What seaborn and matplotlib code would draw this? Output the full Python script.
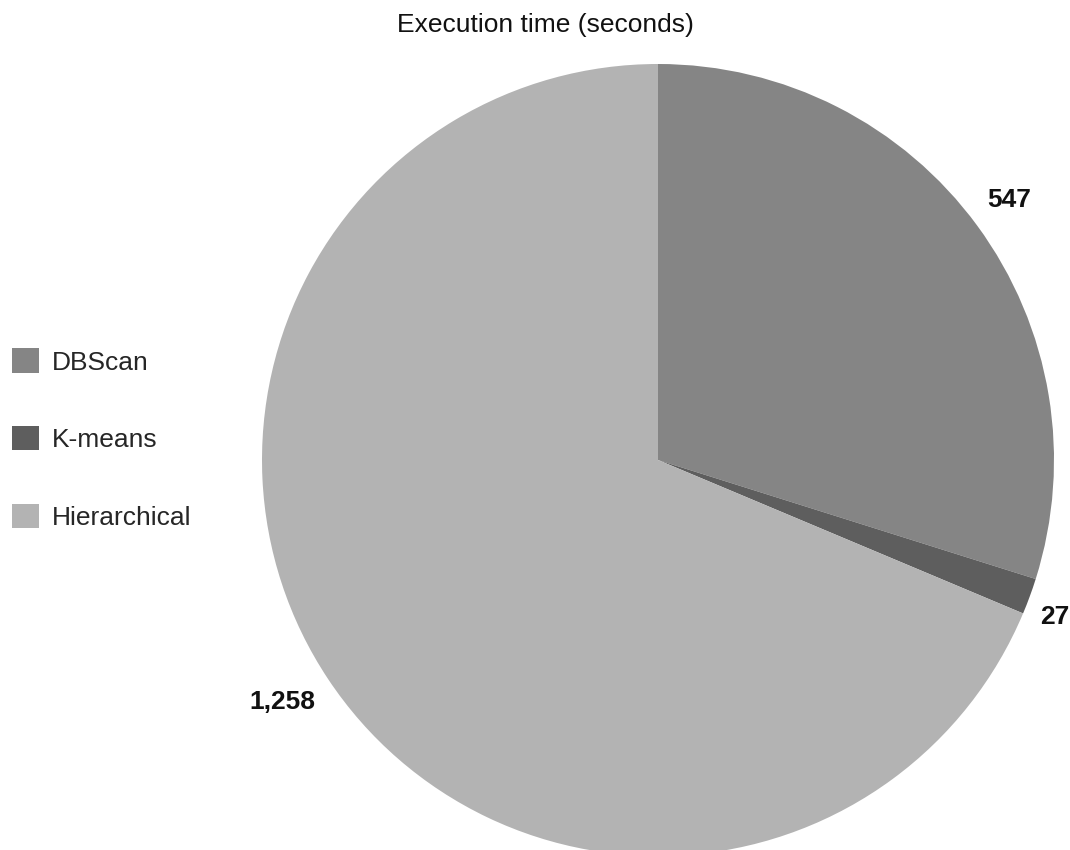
import matplotlib
matplotlib.use("Agg")
import matplotlib.pyplot as plt
import matplotlib.transforms as mtransforms
import seaborn as sns

categories = ["DBScan", "K-means", "Hierarchical"]
values = [547, 27, 1258]
value_labels = ["547", "27", "1,258"]
colors = ["#858585", "#5e5e5e", "#b3b3b3"]
title = "Execution time (seconds)"

# small label nudges (pixels) to mimic the original label placement
label_nudges = [(-3, 16), (-5, -15), (0, -14)]

sns.set_theme(style="white")
plt.rcParams["font.family"] = ["Liberation Sans", "DejaVu Sans"]

W, H = 1070, 850
fig = plt.figure(figsize=(W / 100, H / 100), dpi=100)
ax = fig.add_axes([0, 0, 1, 1])

wedges, texts = ax.pie(values, labels=value_labels, colors=colors,
                       startangle=90, counterclock=False,
                       labeldistance=1.04,
                       wedgeprops=dict(linewidth=0),
                       textprops=dict(fontsize=19, fontweight="bold", color="#111111"))

for t, (dx, dy) in zip(texts, label_nudges):
    t.set_transform(ax.transData + mtransforms.ScaledTranslation(dx / 100, dy / 100, fig.dpi_scale_trans))

# Map pie radius 1 to ~396 px, centered at (658, 460) from top
cx, cy, R = 658, 460, 396
ax.set_xlim(-cx / R, (W - cx) / R)
ax.set_ylim(-(H - cy) / R, cy / R)
ax.set_aspect("auto")
ax.axis("off")

fig.text(0.51, 0.9706, title, ha="center", va="center", fontsize=19, color="#111111")

ax.legend(wedges, categories, loc="center left", bbox_to_anchor=(0.0112, 0.4835),
          bbox_transform=fig.transFigure, frameon=False, fontsize=19,
          handlelength=1.03, handleheight=1.03, handletextpad=0.5,
          labelspacing=1.95, borderpad=0, borderaxespad=0)

fig.savefig("out.png", dpi=100, facecolor="white")
